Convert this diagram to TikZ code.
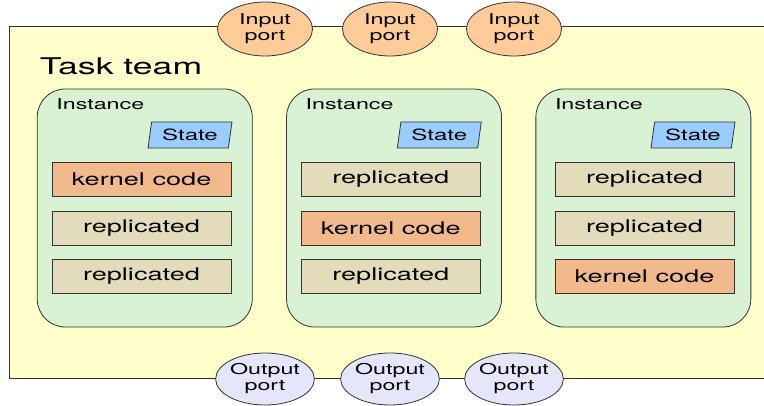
\documentclass[tikz,border=0pt]{standalone}
\usepackage{fontspec}
\setmainfont{TeX Gyre Heros}
\usepackage{graphicx}
\usetikzlibrary{shapes.geometric}
\newcommand{\sx}[1]{\scalebox{1.55}[1]{#1}}
\definecolor{teamfill}{HTML}{FFFFCC}
\definecolor{instfill}{HTML}{D9F2D4}
\definecolor{kernfill}{HTML}{F2B98C}
\definecolor{replfill}{HTML}{E2DCBA}
\definecolor{statefill}{HTML}{99CCFF}
\definecolor{infill}{HTML}{FFCC99}
\definecolor{outfill}{HTML}{E6E6FA}
\definecolor{edge}{HTML}{333333}
\begin{document}
\begin{tikzpicture}[x=1pt,y=-1pt,line width=0.8pt,
  inst/.style={draw=edge,fill=instfill,rounded corners=28pt,minimum width=215pt,minimum height=238pt,inner sep=0pt},
  codebox/.style={draw=edge,minimum width=179pt,minimum height=34pt,inner sep=0pt,font=\fontsize{17.5}{20}\selectfont},
  kernel/.style={codebox,fill=kernfill},
  repl/.style={codebox,fill=replfill},
  statebox/.style={trapezium,trapezium left angle=73,trapezium right angle=107,trapezium stretches body=true,draw=edge,fill=statefill,minimum width=84pt,minimum height=26pt,inner sep=0pt,font=\fontsize{15.5}{18}\selectfont},
  lbl/.style={anchor=base west,inner sep=0pt,font=\fontsize{15}{18}\selectfont},
  port/.style={ellipse,draw=edge,minimum width=95pt,minimum height=54pt,inner sep=0pt,align=center,font=\fontsize{15}{17}\selectfont},
  inport/.style={port,fill=infill},
  outport/.style={port,fill=outfill,minimum width=97pt,minimum height=52pt},
]
\useasboundingbox (0,0) rectangle (764,406);
\node[fill=teamfill,minimum width=754pt,minimum height=351pt,inner sep=0pt] (team) at (387,202.5) {};
\draw[edge,line width=0.8pt] (team.north east) -- (team.north west) -- (team.south west) -- (team.south east);
\node[anchor=base west,inner sep=0pt,font=\fontsize{23}{27}\selectfont] (title) at (39.5,75) {\sx{Task team}};
\foreach \i/\k/\dx/\ex in {0/1/0/0,1/2/249.3/249.3,2/3/498.6/503}{
  \node[inst] (inst\i) at (144.75+\dx,208) {};
  \node[lbl] (ilbl\i) at (56+\dx,110) {\sx{Instance}};
  \node[statebox] (state\i) at (190+\ex,135) {\sx{State}};
  \foreach \j/\y in {1/179,2/228,3/276}{
    \ifnum\j=\k
      \node[kernel] (code\i-\j) at (141.5+\ex,\y) {\sx{kernel code}};
    \else
      \node[repl] (code\i-\j) at (141.5+\ex,\y) {\sx{replicated}};
    \fi
  }
}
\foreach \n/\x in {1/265,2/390,3/514}{
  \node[inport] (in\n) at (\x,29) {\sx{Input}\\[-1pt]\sx{port}};
  \node[outport] (out\n) at (\x,379) {\sx{Output}\\[-1pt]\sx{port}};
}
\end{tikzpicture}
\end{document}
